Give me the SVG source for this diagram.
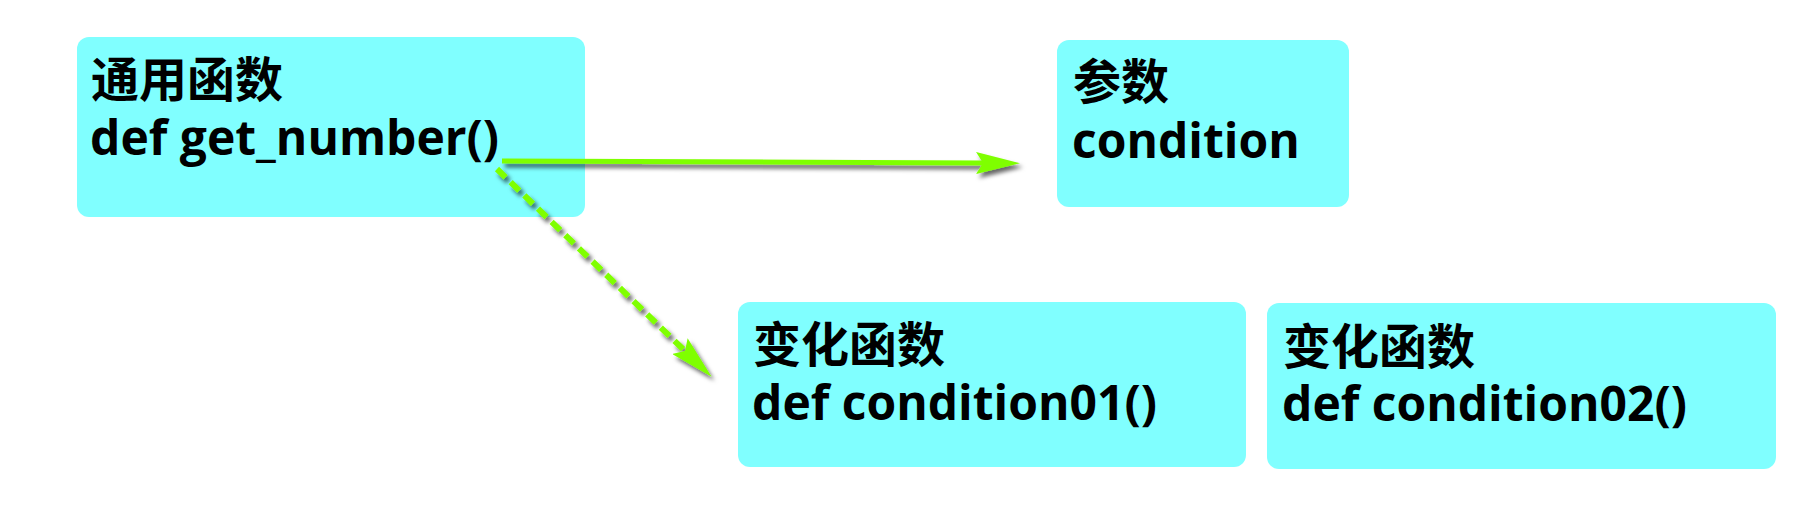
<svg xmlns="http://www.w3.org/2000/svg" width="1793" height="512" viewBox="0 0 1793 512">
  <style>
    .box { fill: #80FFFF; }
    .label { font-family: "Open Sans", "Noto Sans CJK SC", sans-serif; font-weight: bold; font-size: 48px; fill: #000; }
    .cjk { font-family: "Noto Sans CJK SC", "Open Sans", sans-serif; }
    .conn { fill: none; stroke: #7FFF00; stroke-width: 5; }
    .dash { stroke-width: 6; stroke-dasharray: 12 7; }
  </style>
  <defs>
    <filter id="shadow" x="-10%" y="-10%" width="130%" height="140%">
      <feDropShadow dx="3" dy="4" stdDeviation="2" flood-color="#000" flood-opacity="0.6"/>
    </filter>
    <marker id="arrow" markerUnits="userSpaceOnUse" markerWidth="44" markerHeight="22" refX="7" refY="11" orient="auto" viewBox="0 0 44 22">
      <path d="M0,0 L44,11 L0,22 L7,11 Z" fill="#7FFF00"/>
    </marker>
  </defs>
  <rect width="1793" height="512" fill="#FFFFFF"/>

  <g id="node-general">
    <rect class="box" x="77" y="37" width="508" height="180" rx="12"/>
    <text class="label"><tspan class="cjk" x="91" y="97">通用函数</tspan><tspan x="90" y="155">def get_number()</tspan></text>
  </g>

  <g id="node-param">
    <rect class="box" x="1057" y="40" width="292" height="167" rx="12"/>
    <text class="label"><tspan class="cjk" x="1073" y="99">参数</tspan><tspan x="1072" y="158">condition</tspan></text>
  </g>

  <g id="node-cond01">
    <rect class="box" x="738" y="302" width="508" height="165" rx="12"/>
    <text class="label"><tspan class="cjk" x="753" y="362">变化函数</tspan><tspan x="752" y="420">def condition01()</tspan></text>
  </g>

  <g id="node-cond02">
    <rect class="box" x="1267" y="303" width="509" height="166" rx="12"/>
    <text class="label"><tspan class="cjk" x="1283" y="364">变化函数</tspan><tspan x="1282" y="421">def condition02()</tspan></text>
  </g>

  <g id="connectors" filter="url(#shadow)">
    <path class="conn" d="M502,161 L983,163" marker-end="url(#arrow)"/>
    <path class="conn dash" d="M497,169 L685,351" marker-end="url(#arrow)"/>
  </g>
</svg>
